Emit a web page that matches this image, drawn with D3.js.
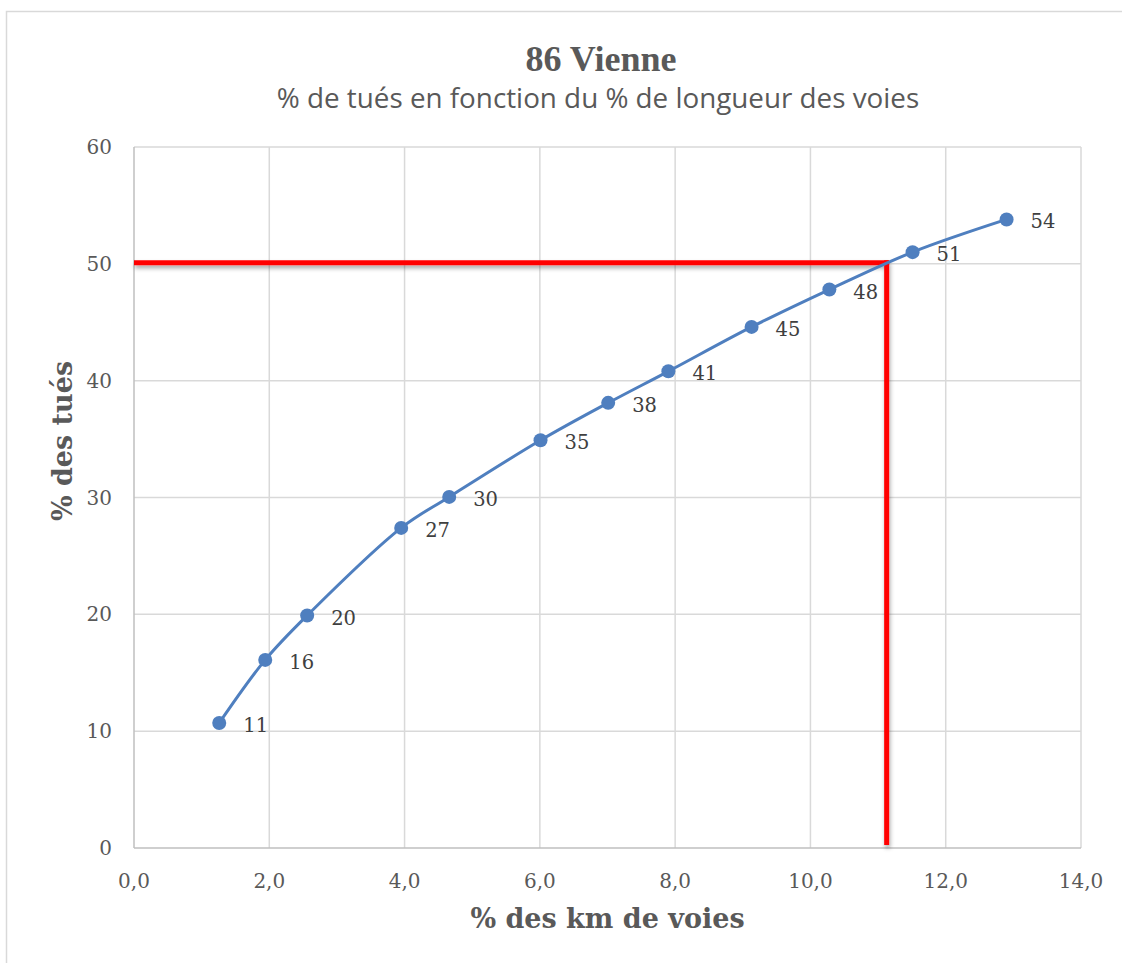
<!DOCTYPE html>
<html><head><meta charset="utf-8">
<script src="https://cdn.jsdelivr.net/npm/d3@7"></script>
<style>body{margin:0;background:#fff;} svg{display:block;}</style>
</head><body>
<script>
const xValues = [1.26, 1.94, 2.56, 3.95, 4.66, 6.01, 7.01, 7.90, 9.13, 10.28, 11.51, 12.90];
const yValues = [10.7, 16.1, 19.9, 27.4, 30.05, 34.9, 38.1, 40.8, 44.6, 47.8, 51.0, 53.8];
const pointLabels = ["11","16","20","27","30","35","38","41","45","48","51","54"];
const xTicks = [0,2,4,6,8,10,12,14];
const yTicks = [0,10,20,30,40,50,60];
const markerX = [11.09];
const markerY = [50.1];

const W = 1122, H = 963;
const svg = d3.select("body").append("svg").attr("width", W).attr("height", H);
const serif = "'DejaVu Serif', serif";

// outer border
svg.append("path").attr("d", `M6.5,${H} V11.5 H${W}`).attr("fill","none").attr("stroke","#d9d9d9").attr("stroke-width",1.5);

const x = d3.scaleLinear().domain([0,14]).range([134,1081]);
const y = d3.scaleLinear().domain([0,60]).range([848,147]);

// grid
svg.append("g").selectAll("line").data(xTicks.slice(1)).join("line")
  .attr("x1",d=>x(d)).attr("x2",d=>x(d)).attr("y1",y(60)).attr("y2",y(0))
  .attr("stroke","#d9d9d9").attr("stroke-width",1.5);
svg.append("g").selectAll("line").data(yTicks.slice(1)).join("line")
  .attr("x1",x(0)).attr("x2",x(14)).attr("y1",d=>y(d)).attr("y2",d=>y(d))
  .attr("stroke","#d9d9d9").attr("stroke-width",1.5);
// axis lines
svg.append("line").attr("x1",x(0)).attr("x2",x(0)).attr("y1",y(60)).attr("y2",y(0)).attr("stroke","#bfbfbf").attr("stroke-width",1.5);
svg.append("line").attr("x1",x(0)).attr("x2",x(14)).attr("y1",y(0)).attr("y2",y(0)).attr("stroke","#bfbfbf").attr("stroke-width",1.5);

// tick labels
const fmt = d => d.toFixed(1).replace(".", ",");
svg.append("g").selectAll("text").data(xTicks).join("text")
  .attr("x",d=>x(d)).attr("y",y(0)+40).attr("text-anchor","middle")
  .attr("font-family",serif).attr("font-size",20).attr("fill","#595959").text(fmt);
svg.append("g").selectAll("text").data(yTicks).join("text")
  .attr("x",x(0)-22).attr("y",d=>y(d)+7).attr("text-anchor","end")
  .attr("font-family",serif).attr("font-size",20).attr("fill","#595959").text(d=>d);

// titles
svg.append("text").attr("x",601).attr("y",71).attr("text-anchor","middle")
  .attr("font-family","'Liberation Serif', serif").attr("font-weight","bold").attr("font-size",36)
  .attr("fill","#595959").text("86 Vienne");
svg.append("text").attr("x",598).attr("y",108).attr("text-anchor","middle")
  .attr("font-family","'Liberation Sans Narrow','Open Sans',sans-serif").attr("font-size",27.8)
  .attr("fill","#595959").text("% de tués en fonction du % de longueur des voies");
svg.append("text").attr("x",(x(0)+x(14))/2).attr("y",928).attr("text-anchor","middle")
  .attr("font-family",serif).attr("font-weight","bold").attr("font-size",27)
  .attr("fill","#595959").text("% des km de voies");
svg.append("text").attr("transform","translate(72,441) rotate(-90)").attr("text-anchor","middle")
  .attr("font-family",serif).attr("font-weight","bold").attr("font-size",27)
  .attr("fill","#595959").text("% des tués");

// red annotation lines with shadow
const defs = svg.append("defs");
const f = defs.append("filter").attr("id","sh").attr("x","-10%").attr("y","-10%").attr("width","120%").attr("height","120%");
f.append("feDropShadow").attr("dx",1).attr("dy",3).attr("stdDeviation",2).attr("flood-color","#000").attr("flood-opacity",0.35);
const red = svg.append("g").attr("filter","url(#sh)");
red.append("line").attr("x1",x(0)).attr("x2",x(markerX[0])+5).attr("y1",y(markerY[0])).attr("y2",y(markerY[0]))
  .attr("stroke","#ff0000").attr("stroke-width",5);
red.append("line").attr("x1",x(markerX[0])+2.5).attr("x2",x(markerX[0])+2.5).attr("y1",y(markerY[0])-2.5).attr("y2",y(0)-3)
  .attr("stroke","#ff0000").attr("stroke-width",5);

// series
const pts = xValues.map((v,i)=>[v,yValues[i]]);
svg.append("path").datum(pts)
  .attr("d", d3.line().x(d=>x(d[0])).y(d=>y(d[1])).curve(d3.curveCatmullRom.alpha(0.5)))
  .attr("fill","none").attr("stroke","#4f7fbf").attr("stroke-width",3);
svg.append("g").selectAll("circle").data(pts).join("circle")
  .attr("cx",d=>x(d[0])).attr("cy",d=>y(d[1])).attr("r",7).attr("fill","#4f7fbf");
svg.append("g").selectAll("text").data(pts).join("text")
  .attr("x",d=>x(d[0])+24).attr("y",d=>y(d[1])+9)
  .attr("font-family",serif).attr("font-size",19.5).attr("fill","#404040")
  .text((d,i)=>pointLabels[i]);
</script>
</body></html>
